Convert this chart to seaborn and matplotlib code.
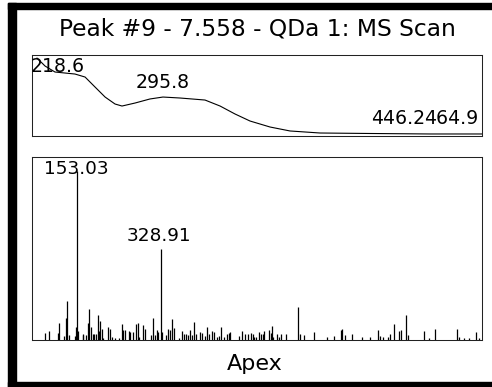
import matplotlib
matplotlib.use("Agg")
import matplotlib.pyplot as plt
import seaborn as sns
from matplotlib.patches import Rectangle

# UV spectrum (top panel)
wavelength_nm = [213.2, 218.4, 224.8, 237.7, 244.2, 250.6, 257.1, 263.5, 268.0,
                 276.4, 286.0, 294.4, 305.4, 321.5, 331.2, 340.8, 350.5, 363.4,
                 376.3, 395.6, 427.8, 466.5, 500.0]
absorbance = [0.963, 0.864, 0.790, 0.765, 0.728, 0.605, 0.481, 0.395, 0.370,
              0.407, 0.457, 0.481, 0.469, 0.444, 0.370, 0.272, 0.185, 0.111,
              0.062, 0.037, 0.031, 0.025, 0.025]
uv_peaks = [218.6, 295.8, 446.2, 464.9]
uv_peak_abs = [0.87, 0.48, 0.03, 0.025]

# MS scan at apex (bottom panel): m/z and relative intensity
mz = [87.2, 95.5, 113.7, 117.0, 127.5, 130.4, 132.5, 137.3, 149.8, 151.9,
      153.03, 155.5, 165.9, 167.2, 172.8, 177.0, 179.1, 182.6, 186.8, 189.5,
      193.1, 197.2, 200.0, 202.7, 205.6, 208.9, 219.4, 222.9, 226.5, 233.4,
      241.7, 247.4, 250.7, 254.3, 262.6, 265.3, 271.6, 277.2, 280.8, 284.1,
      292.5, 296.7, 308.6, 313.4, 317.6, 320.5, 323.8, 328.91, 332.2, 339.3,
      343.5, 348.3, 352.4, 356.6, 367.1, 374.0, 377.5, 381.1, 385.2, 390.0,
      394.9, 398.4, 402.0, 410.9, 415.1, 422.0, 426.2, 429.7, 435.4, 440.2,
      445.8, 451.2, 455.4, 460.4, 466.7, 471.5, 473.6, 492.4, 498.1, 504.9,
      510.6, 516.8, 521.0, 524.4, 527.9, 534.8, 538.4, 541.9, 545.2, 555.7,
      558.6, 561.3, 564.1, 572.4, 576.6, 580.1, 590.6, 615.0, 619.8, 628.8,
      649.7, 675.6, 691.5, 704.8, 708.2, 713.8, 729.1, 748.7, 766.0, 782.8,
      786.9, 792.6, 803.0, 808.5, 815.6, 827.3, 830.2, 840.6, 844.8, 879.5,
      889.3, 902.5, 948.4, 951.9, 962.4, 972.2, 987.5, 994.4]
intensity = [4.2, 5.6, 4.2, 9.9, 2.3, 13.2, 23.0, 2.9, 2.3, 7.6,
             100.0, 5.2, 2.7, 3.8, 2.9, 9.9, 18.5, 7.6, 3.8, 3.8,
             3.8, 14.9, 5.2, 11.5, 6.7, 1.3, 7.5, 6.3, 1.5, 1.3,
             1.3, 9.6, 5.7, 5.7, 5.2, 4.8, 4.8, 9.6, 10.3, 1.9,
             9.0, 6.7, 2.9, 13.2, 2.9, 5.7, 4.8, 53.5, 4.6, 2.9,
             6.7, 5.7, 12.5, 7.1, 1.3, 5.2, 3.4, 3.3, 2.9, 5.7,
             2.9, 10.5, 3.4, 4.8, 4.2, 2.3, 7.9, 3.4, 5.2, 4.8,
             1.9, 2.5, 7.5, 1.9, 3.4, 4.4, 4.8, 2.3, 5.6, 3.8,
             3.8, 4.4, 3.8, 1.9, 1.5, 4.8, 3.8, 3.4, 5.2, 5.7,
             4.2, 8.0, 1.9, 3.4, 1.9, 3.4, 3.8, 19.5, 3.4, 2.9,
             4.8, 1.5, 2.5, 5.7, 6.7, 2.9, 3.3, 1.5, 1.5, 6.1,
             2.3, 1.5, 1.5, 3.4, 9.6, 5.3, 5.7, 14.9, 2.7, 5.3,
             1.3, 6.7, 6.3, 1.9, 1.0, 1.0, 4.8, 1.0]
ms_labels = [153.03, 328.91]
ms_label_int = [100.0, 53.5]

sns.set_style("white")
plt.rcParams["font.family"] = ["DejaVu Sans"]
plt.rcParams["text.color"] = "black"

fig = plt.figure(figsize=(4.92, 3.87), dpi=100)
W, H = 492, 387

def box(x0, y0, x1, y1):
    # pixel box -> figure fraction axes
    return fig.add_axes([x0 / W, 1 - y1 / H, (x1 - x0) / W, (y1 - y0) / H])

# thick frame (top, left, bottom)
for (x0, y0, x1, y1) in [(8, 3, 492, 9), (8, 3, 16, 387), (8, 382, 492, 387)]:
    fig.patches.append(Rectangle((x0 / W, 1 - y1 / H), (x1 - x0) / W, (y1 - y0) / H,
                                 transform=fig.transFigure, color="black", zorder=0))

ax_uv = box(32, 55, 482, 136)
ax_ms = box(32, 157, 482, 340)

sns.lineplot(x=wavelength_nm, y=absorbance, ax=ax_uv, color="black", lw=0.8)
ax_uv.set_xlim(210, 500)
ax_uv.set_ylim(0, 1)

offs_uv = [(12, -6.5), (-2, 8.8), (0, 9.6), (24, 10)]
for p, a, o in zip(uv_peaks, uv_peak_abs, offs_uv):
    ax_uv.annotate(f"{p:.1f}", (p, a), xytext=o, textcoords="offset pixels",
                   ha="center", va="baseline", fontsize=13.6, color="black")

ax_ms.vlines(mz, 0, intensity, color="black", lw=0.9)
ax_ms.set_xlim(60, 1000)
ax_ms.set_ylim(0, 108)

offs_ms = [(-0.5, -3.7), (-1.4, 8.3)]
for m, i, o in zip(ms_labels, ms_label_int, offs_ms):
    ax_ms.annotate(f"{m:.2f}", (m, i), xytext=o, textcoords="offset pixels",
                   ha="center", va="baseline", fontsize=13.3, color="black")

for ax in (ax_uv, ax_ms):
    ax.set_xticks([])
    ax.set_yticks([])
    ax.set_xlabel("")
    ax.set_ylabel("")
    for s in ax.spines.values():
        s.set_color("#222222")
        s.set_linewidth(0.75)

fig.text(257 / W, 1 - 36 / H, "Peak #9 - 7.558 - QDa 1: MS Scan",
         ha="center", va="baseline", fontsize=16.8, color="black")
fig.text(255 / W, 1 - 370 / H, "Apex", ha="center", va="baseline",
         fontsize=16, color="black")

fig.savefig("out.png", dpi=100)
